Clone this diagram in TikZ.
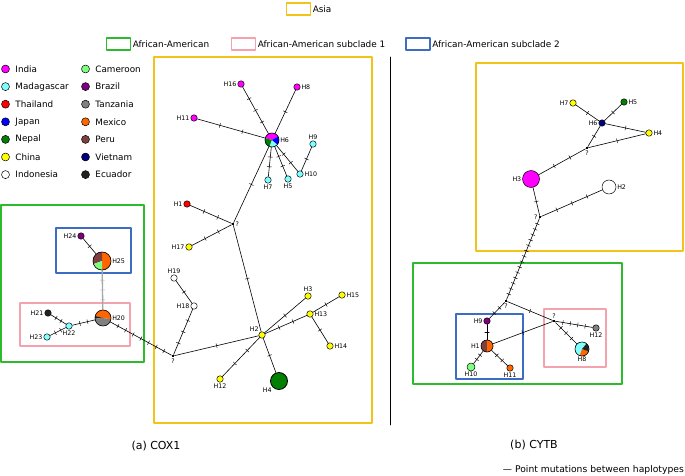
\documentclass[tikz,border=0pt]{standalone}
\usepackage{fontspec}
\setmainfont{DejaVu Sans}
\usetikzlibrary{decorations.markings}

\definecolor{india}{HTML}{FF00FF}
\definecolor{madagascar}{HTML}{7FFFFF}
\definecolor{thailand}{HTML}{FF0000}
\definecolor{japan}{HTML}{0000FF}
\definecolor{nepal}{HTML}{007F00}
\definecolor{china}{HTML}{FFFF00}
\definecolor{indonesia}{HTML}{FFFFFF}
\definecolor{cameroon}{HTML}{7FFF7F}
\definecolor{brazil}{HTML}{7F007F}
\definecolor{tanzania}{HTML}{808080}
\definecolor{mexico}{HTML}{FF6600}
\definecolor{peru}{HTML}{7F3F3F}
\definecolor{vietnam}{HTML}{00007F}
\definecolor{ecuador}{HTML}{222222}
\definecolor{asiabox}{HTML}{F2C318}
\definecolor{aabox}{HTML}{2DBB2D}
\definecolor{subone}{HTML}{F4A3AE}
\definecolor{subtwo}{HTML}{3C6DC2}

% one slice of a pie: node, radius, start, end, colour
\newcommand{\pieslice}[5]{\fill[#5] (#1.center) -- ++(#3:#2) arc[start angle=#3, end angle=#4, radius=#2] -- cycle;}

\begin{document}
\begin{tikzpicture}[x=1pt, y=1pt, line cap=round, line join=round,
  hap/.style={circle, draw, line width=0.5pt, inner sep=0pt, minimum size=6.5pt},
  junc/.style={rectangle, fill=black, inner sep=0pt, minimum size=2.6pt},
  edge/.style={line width=0.6pt},
  mut/.style={postaction={decorate, decoration={markings,
      mark=between positions 1/(#1+1) and #1/(#1+1)+0.01 step 1/(#1+1) with {\draw[line width=0.45pt] (0,-2.2) -- (0,2.2);}}}},
  every label/.style={font=\fontsize{6.3}{7}\selectfont, inner sep=0.8pt},
  box/.style={line width=1.1pt},
  legtext/.style={font=\fontsize{8.9}{10}\selectfont, inner sep=1.5pt},
  country/.style={font=\fontsize{8.8}{10}\selectfont, inner sep=0pt, xshift=5.5pt}]
  \useasboundingbox (0,0) rectangle (685,-476);

  % legend on top
  \node[draw=asiabox, box, minimum width=24pt, minimum height=12pt] (lgAsia) at (298.5,-9) {};
  \node[legtext, right] at (lgAsia.east) {Asia};
  \node[draw=aabox, box, minimum width=24pt, minimum height=12pt] (lgAA) at (118.5,-44) {};
  \node[legtext, right] at (lgAA.east) {African-American};
  \node[draw=subone, box, minimum width=24pt, minimum height=12pt] (lgSub1) at (243.5,-44) {};
  \node[legtext, right] at (lgSub1.east) {African-American subclade 1};
  \node[draw=subtwo, box, minimum width=24pt, minimum height=12pt] (lgSub2) at (418,-44) {};
  \node[legtext, right] at (lgSub2.east) {African-American subclade 2};

  % countries
  \foreach \name/\col [count=\i] in {India/india, Madagascar/madagascar, Thailand/thailand, Japan/japan, Nepal/nepal, China/china, Indonesia/indonesia}
    {\node[hap, fill=\col, minimum size=8pt] (lgL\i) at (5.5,{-69-17.6*(\i-1)}) {};
     \node[country, right] at (lgL\i.east) {\name};}
  \foreach \name/\col [count=\i] in {Cameroon/cameroon, Brazil/brazil, Tanzania/tanzania, Mexico/mexico, Peru/peru, Vietnam/vietnam, Ecuador/ecuador}
    {\node[hap, fill=\col, minimum size=8pt] (lgR\i) at (85.5,{-69-17.6*(\i-1)}) {};
     \node[country, right] at (lgR\i.east) {\name};}

  % clade boxes
  \draw[box, asiabox] (154,-57) rectangle (372,-423);
  \draw[box, aabox] (1,-205) rectangle (144,-362);
  \draw[box, subtwo] (56,-228) rectangle (131,-273);
  \draw[box, subone] (20,-303) rectangle (130,-346);
  \draw[box, asiabox] (476,-63) rectangle (683,-251);
  \draw[box, aabox] (413,-263) rectangle (622,-384);
  \draw[box, subtwo] (456,-314) rectangle (523,-379);
  \draw[box, subone] (544,-309) rectangle (606,-367);
  \draw[line width=0.6pt] (390,-57) -- (390,-425);

  % (a) COX1 haplotypes
  \node[hap, fill=india, label=left:H16] (coxH16) at (241,-84) {};
  \node[hap, fill=india, label=right:H8] (coxH8) at (297,-87) {};
  \node[hap, fill=india, label=left:H11] (coxH11) at (194,-118) {};
  \node[hap, minimum size=14pt, label=right:H6] (coxH6) at (272,-140) {};
  \node[hap, fill=madagascar, label=above:H9] (coxH9) at (313,-144) {};
  \node[hap, fill=madagascar, label=right:H10] (coxH10) at (300,-174) {};
  \node[hap, fill=madagascar, label=below:H7] (coxH7) at (268,-180) {};
  \node[hap, fill=madagascar, label=below:H5] (coxH5) at (288,-179) {};
  \node[hap, fill=thailand, label=left:H1] (coxH1) at (187,-204) {};
  \node[junc, label=right:?] (coxQa) at (233,-224) {};
  \node[hap, fill=china, label=left:H17] (coxH17) at (189,-247) {};
  \node[hap, fill=indonesia, label=above:H19] (coxH19) at (174,-278) {};
  \node[hap, fill=indonesia, label=left:H18] (coxH18) at (194,-306) {};
  \node[junc, label=below:?] (coxQb) at (173,-356) {};
  \node[hap, fill=china, label=above left:H2] (coxH2) at (262,-335) {};
  \node[hap, fill=china, label=above:H3] (coxH3) at (308,-296) {};
  \node[hap, fill=china, label=right:H15] (coxH15) at (342,-295) {};
  \node[hap, fill=china, label=right:H13] (coxH13) at (310,-314) {};
  \node[hap, fill=china, label=right:H14] (coxH14) at (330,-346) {};
  \node[hap, fill=china, label=below:H12] (coxH12) at (220,-379) {};
  \node[hap, fill=nepal, line width=0.8pt, minimum size=17pt, label=below left:H4] (coxH4) at (279,-381) {};
  \node[hap, fill=brazil, label=left:H24] (coxH24) at (81,-236) {};
  \node[hap, minimum size=18pt, label=right:H25] (coxH25) at (102,-261) {};
  \node[hap, minimum size=16pt, label=right:H20] (coxH20) at (103,-318) {};
  \node[hap, fill=ecuador, label=left:H21] (coxH21) at (48,-313) {};
  \node[hap, fill=madagascar, label=below:H22] (coxH22) at (69,-326) {};
  \node[hap, fill=madagascar, label=left:H23] (coxH23) at (47,-337) {};

  \draw[edge, mut=3] (coxH16) -- (coxH6);
  \draw[edge, mut=1] (coxH8) -- (coxH6);
  \draw[edge, mut=2] (coxH11) -- (coxH6);
  \draw[edge, mut=2] (coxH6) -- (coxH7);
  \draw[edge, mut=2] (coxH6) -- (coxH5);
  \draw[edge, mut=2] (coxH6) -- (coxH10);
  \draw[edge, mut=1] (coxH10) -- (coxH9);
  \draw[edge, mut=1] (coxH6) -- (coxQa);
  \draw[edge, mut=2] (coxH1) -- (coxQa);
  \draw[edge, mut=2] (coxH17) -- (coxQa);
  \draw[edge, mut=1] (coxQa) -- (coxH2);
  \draw[edge, mut=1] (coxH2) -- (coxH3);
  \draw[edge, mut=2] (coxH2) -- (coxH13);
  \draw[edge, mut=1] (coxH13) -- (coxH15);
  \draw[edge, mut=1] (coxH13) -- (coxH14);
  \draw[edge, mut=2] (coxH2) -- (coxH12);
  \draw[edge, mut=1] (coxH2) -- (coxH4);
  \draw[edge, mut=1] (coxH2) -- (coxQb);
  \draw[edge, mut=3] (coxQb) -- (coxH18);
  \draw[edge, mut=1] (coxH18) -- (coxH19);
  \draw[edge, mut=7] (coxQb) -- (coxH20);
  \draw[edge, mut=2] (coxH20) -- (coxH22);
  \draw[edge, mut=2] (coxH22) -- (coxH21);
  \draw[edge, mut=2] (coxH22) -- (coxH23);
  \draw[edge, gray!70, line width=1.3pt, mut=3] (coxH20) -- (coxH25);
  \draw[edge, mut=1] (coxH25) -- (coxH24);

  \pieslice{coxH6}{7}{30}{165}{india}
  \pieslice{coxH6}{7}{165}{250}{nepal}
  \pieslice{coxH6}{7}{250}{320}{madagascar}
  \pieslice{coxH6}{7}{320}{390}{japan}
  \draw[line width=0.5pt] (coxH6.center) circle[radius=7];
  \pieslice{coxH25}{9}{-90}{90}{mexico}
  \pieslice{coxH25}{9}{90}{200}{peru}
  \pieslice{coxH25}{9}{200}{270}{cameroon}
  \draw[line width=0.5pt] (coxH25.center) circle[radius=9];
  \pieslice{coxH20}{8}{-10}{165}{mexico}
  \pieslice{coxH20}{8}{165}{185}{ecuador}
  \pieslice{coxH20}{8}{185}{350}{tanzania}
  \draw[line width=0.5pt] (coxH20.center) circle[radius=8];

  % (b) CYTB haplotypes
  \node[hap, fill=china, label=left:H7] (cytH7) at (573,-103) {};
  \node[hap, fill=nepal, label=right:H5] (cytH5) at (624,-102) {};
  \node[hap, fill=vietnam, label=left:H6] (cytH6) at (602,-123) {};
  \node[hap, fill=china, label=right:H4] (cytH4) at (649,-133) {};
  \node[junc, label=below:?] (cytQc) at (587,-148) {};
  \node[hap, fill=india, minimum size=17pt, label=left:H3] (cytH3) at (531,-179) {};
  \node[hap, fill=indonesia, minimum size=14pt, label=right:H2] (cytH2) at (609,-187) {};
  \node[junc, label=left:?] (cytQd) at (540,-217) {};
  \node[junc, label=below:?] (cytQe) at (506,-301) {};
  \node[hap, fill=brazil, label=left:H9] (cytH9) at (487,-321) {};
  \node[hap, minimum size=12pt, label=left:H1] (cytH1) at (487,-346) {};
  \node[hap, fill=cameroon, minimum size=8pt, label=below:H10] (cytH10) at (471,-367) {};
  \node[hap, fill=mexico, label=below:H11] (cytH11) at (510,-368) {};
  \node[junc, label=above:?] (cytQf) at (554,-321) {};
  \node[hap, fill=tanzania, label=below:H12] (cytH12) at (596,-328) {};
  \node[hap, minimum size=14pt, label=below:H8] (cytH8) at (582,-349) {};

  \draw[edge, mut=1] (cytH7) -- (cytH6);
  \draw[edge, mut=1] (cytH5) -- (cytH6);
  \draw[edge, mut=1] (cytH6) -- (cytH4);
  \draw[edge, mut=1] (cytH6) -- (cytQc);
  \draw[edge, mut=1] (cytH4) -- (cytQc);
  \draw[edge, mut=2] (cytQc) -- (cytH3);
  \draw[edge, mut=1] (cytH3) -- (cytQd);
  \draw[edge, mut=3] (cytQd) -- (cytH2);
  \draw[edge, mut=14] (cytQd) -- (cytQe);
  \draw[edge, mut=2] (cytQe) -- (cytH9);
  \draw[edge, mut=1] (cytH9) -- (cytH1);
  \draw[edge, mut=2] (cytH1) -- (cytH10);
  \draw[edge, mut=2] (cytH1) -- (cytH11);
  \draw[edge, mut=1] (cytH1) -- (cytQf);
  \draw[edge, mut=1] (cytQe) -- (cytQf);
  \draw[edge, mut=4] (cytQf) -- (cytH12);
  \draw[edge, mut=3] (cytQf) -- (cytH8);

  \pieslice{cytH1}{6}{90}{270}{peru}
  \pieslice{cytH1}{6}{-90}{90}{mexico}
  \draw[line width=0.5pt] (cytH1.center) circle[radius=6];
  \pieslice{cytH8}{7}{50}{250}{madagascar}
  \pieslice{cytH8}{7}{250}{340}{mexico}
  \pieslice{cytH8}{7}{-20}{50}{ecuador}
  \draw[line width=0.5pt] (cytH8.center) circle[radius=7];

  % captions
  \node[font=\fontsize{11}{13}\selectfont] (capA) at (156,-446) {(a) COX1};
  \node[font=\fontsize{11}{13}\selectfont] (capB) at (534,-445) {(b) CYTB};
  \node[font=\fontsize{9.2}{10}\selectfont, inner sep=1pt, anchor=east] (capMut) at (685,-470) {— Point mutations between haplotypes};
\end{tikzpicture}
\end{document}
